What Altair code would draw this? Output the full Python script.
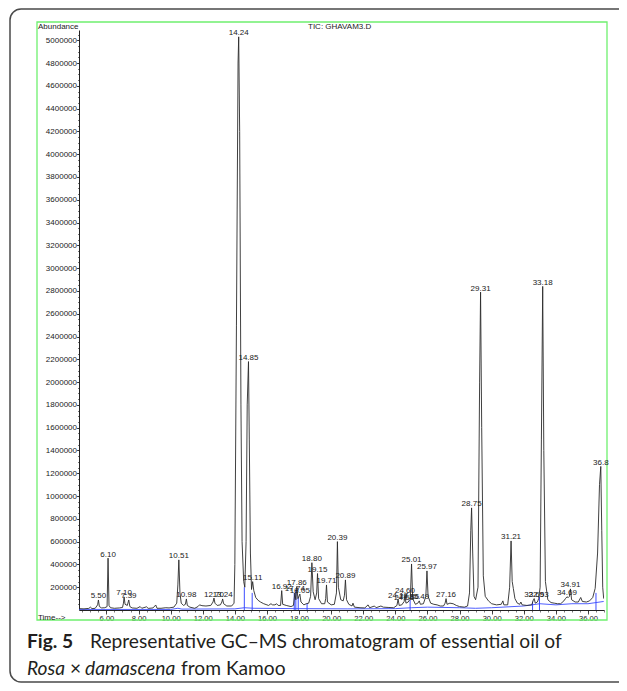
import altair as alt
import pandas as pd

# ---------------- data ----------------
# total ion current trace: retention time (min) and abundance (thousands)
TRACE_T = [
    4.29, 4.6, 4.9, 5.0, 5.1, 5.3, 5.45, 5.50, 5.56, 5.7,
    5.9, 6.04, 6.10, 6.16, 6.25, 6.5, 6.8, 7.0, 7.06, 7.10,
    7.16, 7.30, 7.39, 7.46, 7.6, 7.9, 8.1, 8.2, 8.5, 8.6,
    8.9, 9.07, 9.15, 9.4, 9.7, 9.9, 10.2, 10.38, 10.45, 10.51,
    10.58, 10.66, 10.8, 10.92, 10.98, 11.04, 11.2, 11.5, 11.7, 11.8,
    11.95, 12.2, 12.5, 12.64, 12.70, 12.76, 12.9, 13.1, 13.19, 13.24,
    13.30, 13.5, 13.8, 13.95, 14.0, 14.1, 14.2, 14.24, 14.30, 14.38,
    14.45, 14.55, 14.62, 14.70, 14.77, 14.85, 14.90, 14.97, 15.04, 15.11,
    15.18, 15.3, 15.45, 15.6, 15.8, 16.0, 16.1, 16.25, 16.35, 16.5,
    16.6, 16.7, 16.85, 16.92, 16.98, 17.2, 17.5, 17.65, 17.74, 17.80,
    17.86, 17.93, 18.05, 18.12, 18.3, 18.45, 18.6, 18.72, 18.80, 18.88,
    19.0, 19.10, 19.15, 19.22, 19.4, 19.6, 19.66, 19.71, 19.77, 20.0,
    20.2, 20.33, 20.39, 20.45, 20.6, 20.75, 20.83, 20.89, 20.96, 21.1,
    21.3, 21.36, 21.45, 21.8, 22.1, 22.3, 22.4, 22.7, 22.8, 23.1,
    23.25, 23.6, 23.9, 24.1, 24.17, 24.24, 24.4, 24.55, 24.60, 24.66,
    24.80, 24.86, 24.93, 25.01, 25.08, 25.25, 25.4, 25.49, 25.56, 25.75,
    25.90, 25.97, 26.04, 26.2, 26.4, 26.6, 26.8, 27.0, 27.10, 27.16,
    27.22, 27.4, 27.6, 27.8, 28.0, 28.3, 28.5, 28.62, 28.70, 28.75,
    28.82, 28.90, 29.0, 29.15, 29.25, 29.31, 29.38, 29.48, 29.6, 29.8,
    30.0, 30.3, 30.6, 30.70, 30.76, 31.0, 31.12, 31.21, 31.28, 31.35,
    31.45, 31.6, 31.75, 31.82, 31.9, 32.2, 32.5, 32.60, 32.65, 32.72,
    32.85, 32.93, 33.02, 33.10, 33.18, 33.25, 33.35, 33.5, 33.7, 33.9,
    34.1, 34.3, 34.5, 34.60, 34.69, 34.78, 34.85, 34.91, 34.98, 35.2,
    35.4, 35.55, 35.65, 35.9, 36.1, 36.3, 36.45, 36.6, 36.72, 36.80,
    36.86, 36.92, 36.98,
]
TRACE_K = [
    12, 10, 14, 25, 12, 15, 45, 88, 30, 18,
    20, 30, 455, 40, 20, 15, 18, 22, 60, 115,
    50, 40, 88, 30, 18, 15, 30, 15, 28, 14,
    18, 44, 15, 15, 20, 18, 25, 60, 220, 440,
    150, 60, 40, 50, 97, 40, 25, 15, 30, 45,
    38, 35, 40, 70, 105, 60, 40, 45, 70, 97,
    55, 35, 35, 60, 400, 2500, 4800, 5030, 4200, 1800,
    600, 250, 200, 600, 1800, 2180, 1500, 500, 180, 249,
    170, 110, 85, 70, 55, 45, 40, 55, 45, 45,
    55, 40, 40, 170, 50, 40, 30, 40, 150, 90,
    205, 100, 140, 70, 45, 55, 60, 120, 415, 160,
    90, 150, 320, 100, 55, 55, 100, 220, 70, 45,
    50, 150, 600, 200, 90, 80, 130, 264, 90, 50,
    35, 60, 25, 20, 18, 45, 20, 35, 20, 35,
    25, 22, 20, 40, 95, 40, 45, 75, 140, 60,
    70, 85, 90, 404, 100, 50, 60, 80, 50, 55,
    120, 343, 120, 60, 50, 45, 35, 35, 60, 100,
    50, 60, 55, 40, 30, 25, 35, 150, 700, 896,
    500, 120, 90, 200, 2000, 2790, 1600, 300, 120, 80,
    55, 45, 50, 80, 45, 45, 200, 606, 250, 190,
    100, 60, 50, 70, 45, 40, 45, 90, 100, 60,
    70, 100, 200, 1500, 2840, 1400, 250, 90, 65, 60,
    55, 55, 80, 100, 115, 110, 120, 185, 90, 70,
    70, 110, 75, 70, 80, 110, 190, 500, 1100, 1260,
    700, 200, 100,
]

# labelled peaks: retention time, printed label, apex (thousands)
PEAK_RT = [5.50, 6.10, 7.10, 7.39, 10.51, 10.98, 12.70, 13.24, 14.24, 14.85,
           15.11, 16.92, 17.74, 17.86, 18.05, 18.80, 19.15, 19.71, 20.39, 20.89,
           24.17, 24.55, 24.60, 24.86, 25.01, 25.49, 25.97, 27.16, 28.75, 29.31,
           31.21, 32.65, 32.93, 33.18, 34.69, 34.91, 36.80]
PEAK_LABEL = ["5.50", "6.10", "7.10", "7.39", "10.51", "10.98", "12.70", "13.24", "14.24", "14.85",
              "15.11", "16.92", "17.74", "17.86", "18.05", "18.80", "19.15", "19.71", "20.39", "20.89",
              "24.17", "24.55", "24.60", "24.86", "25.01", "25.49", "25.97", "27.16", "28.75", "29.31",
              "31.21", "32.65", "32.93", "33.18", "34.69", "34.91", "36.8"]
PEAK_K = [88, 455, 115, 88, 440, 97, 105, 97, 5030, 2180,
          249, 170, 150, 205, 140, 415, 320, 220, 600, 264,
          95, 75, 140, 85, 404, 80, 343, 100, 896, 2790,
          606, 100, 100, 2840, 115, 185, 1260]

# blue integration baseline and integration markers
BASE_T = [4.29, 10.0, 10.45, 10.7, 14.0, 14.6, 15.2, 18.0, 21.0, 24.0,
          25.0, 26.0, 28.0, 29.0, 30.0, 32.0, 33.0, 34.0, 35.0, 36.0, 36.98]
BASE_K = [5, 5, 15, 8, 10, 20, 15, 12, 10, 12,
          20, 25, 20, 15, 20, 35, 55, 45, 55, 55, 75]
MARK_T = [14.59, 15.08, 17.70, 17.80, 17.95, 18.50, 24.92, 32.55, 32.98, 36.50]
MARK_K = [200, 150, 150, 176, 110, 60, 88, 73, 117, 150]

X_TICKS = [6, 8, 10, 12, 14, 16, 18, 20, 22, 24, 26, 28, 30, 32, 34, 36]
X_MINOR = [4.5 + 0.5 * i for i in range(66)]
Y_TICKS = [200000 * i for i in range(1, 26)]
Y_MINOR = [50000 * i for i in range(1, 102)]

# ---------------- tables ----------------
trace_df = pd.DataFrame({"t": TRACE_T, "a": [k * 1000 for k in TRACE_K]})
peak_df = pd.DataFrame({"t": PEAK_RT, "lab": PEAK_LABEL, "a": [k * 1000 for k in PEAK_K]})
base_df = pd.DataFrame({"t": BASE_T, "a": [k * 1000 for k in BASE_K]})
mark_df = pd.DataFrame({"t": MARK_T, "a": [k * 1000 for k in MARK_K], "z": [0] * len(MARK_T)})
one = pd.DataFrame({"d": [0]})

W, H = 525, 580
xs = alt.Scale(domain=[4.29, 37.0], nice=False, zero=False)
ys = alt.Scale(domain=[0, 5090000], nice=False, zero=True)

INK = "#222222"
AX_FONT = "Liberation Sans"

x_major = alt.Axis(values=X_TICKS, format=".2f", title=None, orient="bottom", grid=False,
                   tickSize=4, labelPadding=0, labelFontSize=7.6, labelFont=AX_FONT,
                   labelColor=INK, tickColor=INK, domainColor=INK, domainWidth=1,
                   tickWidth=0.8, labelFlush=False)
y_major = alt.Axis(values=Y_TICKS, format="d", title=None, orient="left", grid=False,
                   tickSize=2.5, labelPadding=0, labelFontSize=8, labelFont=AX_FONT,
                   labelColor=INK, tickColor=INK, domainColor=INK, domainWidth=1,
                   tickWidth=0.8, labelFlush=False)
x_minor = alt.Axis(values=X_MINOR, labels=False, domain=False, title=None, orient="bottom",
                   grid=False, tickSize=2, tickColor=INK, tickWidth=0.6)
y_minor = alt.Axis(values=Y_MINOR, labels=False, domain=False, title=None, orient="left",
                   grid=False, tickSize=1.5, tickColor=INK, tickWidth=0.6)

trace = alt.Chart(trace_df).mark_line(color="#2b2b2b", strokeWidth=0.9, clip=True).encode(
    x=alt.X("t:Q", scale=xs, axis=x_major),
    y=alt.Y("a:Q", scale=ys, axis=y_major),
)

minor = alt.Chart(peak_df).mark_point(opacity=0).encode(
    x=alt.X("t:Q", scale=xs, axis=x_minor),
    y=alt.Y("a:Q", scale=ys, axis=y_minor),
)

baseline = alt.Chart(base_df).mark_line(color="#3b4cff", strokeWidth=0.9, clip=True).encode(
    x=alt.X("t:Q", scale=xs, axis=None),
    y=alt.Y("a:Q", scale=ys, axis=None),
)

marks = alt.Chart(mark_df).mark_rule(color="#3b4cff", strokeWidth=1).encode(
    x=alt.X("t:Q", scale=xs, axis=None),
    y=alt.Y("a:Q", scale=ys, axis=None),
    y2="z:Q",
)

labels = alt.Chart(peak_df).mark_text(
    align="center", baseline="alphabetic", dy=-1.5, font=AX_FONT, fontSize=8, color=INK
).encode(
    x=alt.X("t:Q", scale=xs, axis=None),
    y=alt.Y("a:Q", scale=ys, axis=None),
    text="lab:N",
)

# ---------------- decorations (pixel positions relative to plot origin) ----------------
def txt(s, x, y, size=8, font=AX_FONT, weight="normal", style="normal", color=INK, baseline="alphabetic"):
    return alt.Chart(one).mark_text(
        text=s, align="left", baseline=baseline, font=font, fontSize=size,
        fontWeight=weight, fontStyle=style, color=color
    ).encode(x=alt.value(x), y=alt.value(y))

green_box = alt.Chart(one).mark_rect(
    fill="transparent", stroke="#6ff06f", strokeWidth=1.3
).encode(x=alt.value(-42), x2=alt.value(528), y=alt.value(-8), y2=alt.value(590))

frame = alt.Chart(one).mark_rect(
    fill="transparent", stroke="#4a4a4a", strokeWidth=1.5, cornerRadius=11
).encode(x=alt.value(-69), x2=alt.value(570), y=alt.value(-21), y2=alt.value(652))

CAP = "Lato"
CAP_SIZE = 19.2
CAP_COLOR = "#231f20"
caption = [
    txt("Fig. 5", -52, 618, size=CAP_SIZE, font=CAP, weight="bold", color=CAP_COLOR),
    txt("Representative GC–MS chromatogram of essential oil of", 11, 618, size=CAP_SIZE, font=CAP, color=CAP_COLOR),
    txt("Rosa", -52, 645, size=CAP_SIZE, font=CAP, style="italic", color=CAP_COLOR),
    txt("×", -9, 645, size=CAP_SIZE, font=CAP, color=CAP_COLOR),
    txt("damascena", 6, 645, size=CAP_SIZE, font=CAP, style="italic", color=CAP_COLOR),
    txt("from Kamoo", 102, 645, size=CAP_SIZE, font=CAP, color=CAP_COLOR),
]

heads = [
    txt("Abundance", -41, -1),
    txt("TIC: GHAVAM3.D", 229, -1),
    txt("Time-->", -41, 590),
]

chart = alt.layer(
    frame, green_box, baseline, marks, trace, minor, labels, *heads, *caption
).resolve_axis(
    x="independent", y="independent"
).properties(
    width=W, height=H,
    autosize=alt.AutoSizeParams(type="none"),
    padding={"left": 71, "top": 22, "right": 15, "bottom": 73},
    background="white",
).configure_view(stroke=None)

chart.save("out.html", embed_options={"renderer": "svg", "actions": False})
